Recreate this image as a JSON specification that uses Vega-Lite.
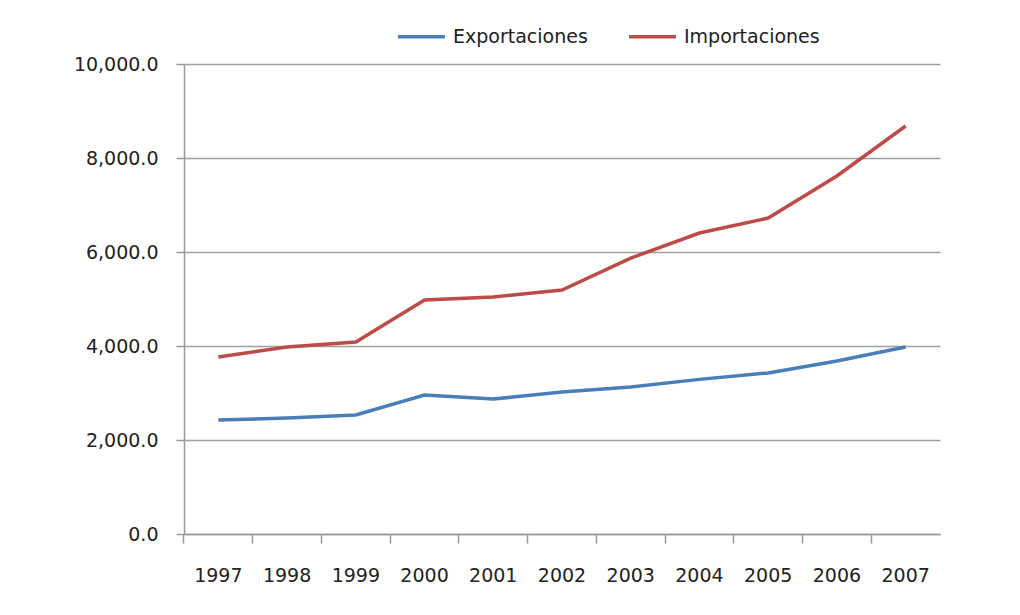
{
  "$schema": "https://vega.github.io/schema/vega-lite/v6.json",
  "autosize": "none",
  "width": 756,
  "height": 470,
  "padding": {"left": 184, "top": 64, "right": 80, "bottom": 81},
  "background": "white",
  "config": {
    "font": "DejaVu Sans",
    "view": {"stroke": null}
  },
  "data": {
    "values": [
      {"year": "1997", "serie": "Exportaciones", "valor": 2426},
      {"year": "1998", "serie": "Exportaciones", "valor": 2468},
      {"year": "1999", "serie": "Exportaciones", "valor": 2532},
      {"year": "2000", "serie": "Exportaciones", "valor": 2957},
      {"year": "2001", "serie": "Exportaciones", "valor": 2870},
      {"year": "2002", "serie": "Exportaciones", "valor": 3021},
      {"year": "2003", "serie": "Exportaciones", "valor": 3128},
      {"year": "2004", "serie": "Exportaciones", "valor": 3290},
      {"year": "2005", "serie": "Exportaciones", "valor": 3426},
      {"year": "2006", "serie": "Exportaciones", "valor": 3681},
      {"year": "2007", "serie": "Exportaciones", "valor": 3979},
      {"year": "1997", "serie": "Importaciones", "valor": 3766},
      {"year": "1998", "serie": "Importaciones", "valor": 3979},
      {"year": "1999", "serie": "Importaciones", "valor": 4085},
      {"year": "2000", "serie": "Importaciones", "valor": 4979},
      {"year": "2001", "serie": "Importaciones", "valor": 5043},
      {"year": "2002", "serie": "Importaciones", "valor": 5191},
      {"year": "2003", "serie": "Importaciones", "valor": 5870},
      {"year": "2004", "serie": "Importaciones", "valor": 6404},
      {"year": "2005", "serie": "Importaciones", "valor": 6723},
      {"year": "2006", "serie": "Importaciones", "valor": 7617},
      {"year": "2007", "serie": "Importaciones", "valor": 8681}
    ]
  },
  "mark": {"type": "line", "strokeWidth": 3.5},
  "encoding": {
    "x": {
      "field": "year",
      "type": "ordinal",
      "scale": {"type": "band", "paddingInner": 0, "paddingOuter": 0},
      "axis": {
        "title": null,
        "labelAngle": 0,
        "bandPosition": 0,
        "labelFontSize": 19,
        "labelColor": "#222222",
        "labelPadding": 23,
        "tickSize": 9,
        "tickColor": "#9a9a9a",
        "tickWidth": 1.5,
        "domainColor": "#9a9a9a",
        "domainWidth": 1.5,
        "grid": false
      }
    },
    "y": {
      "field": "valor",
      "type": "quantitative",
      "scale": {"domain": [0, 10000], "nice": false},
      "axis": {
        "title": null,
        "values": [0, 2000, 4000, 6000, 8000, 10000],
        "format": ",.1f",
        "labelFontSize": 19,
        "labelColor": "#222222",
        "labelPadding": 18,
        "tickSize": 8,
        "tickColor": "#9a9a9a",
        "tickWidth": 1.5,
        "domainColor": "#9a9a9a",
        "domainWidth": 1.5,
        "grid": true,
        "gridColor": "#a0a0a0",
        "gridWidth": 1.5
      }
    },
    "color": {
      "field": "serie",
      "type": "nominal",
      "scale": {"domain": ["Exportaciones", "Importaciones"], "range": ["#4a7ebb", "#be4b48"]},
      "legend": {
        "title": null,
        "orient": "none",
        "direction": "horizontal",
        "legendX": 212,
        "legendY": -53,
        "symbolType": "stroke",
        "symbolSize": 2200,
        "symbolStrokeWidth": 3.5,
        "labelFontSize": 19,
        "labelColor": "#222222",
        "labelOffset": 6,
        "columnPadding": 34
      }
    }
  }
}
